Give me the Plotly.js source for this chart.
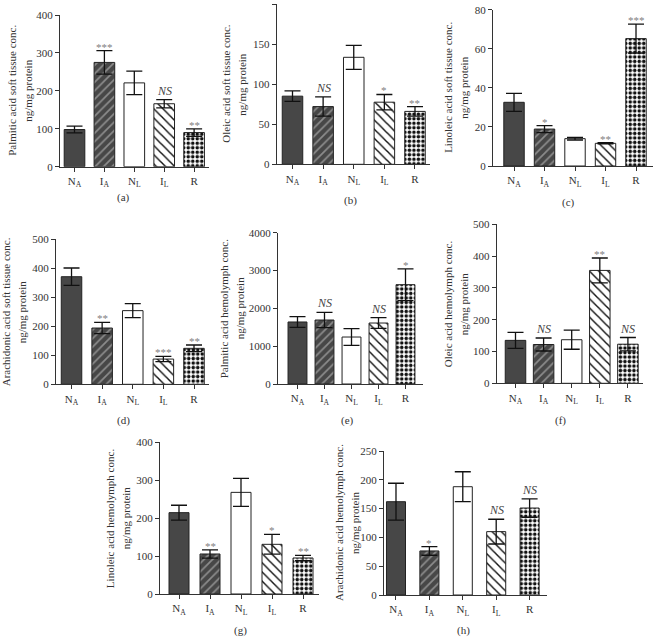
<!DOCTYPE html>
<html><head><meta charset="utf-8">
<script src="https://cdn.plot.ly/plotly-3.0.1.min.js"></script>
<style>html,body{margin:0;padding:0;background:#fff}#chart{width:656px;height:638px}</style>
</head><body><div id="chart"></div>
<script>
const categories = ["N<sub>A</sub>", "I<sub>A</sub>", "N<sub>L</sub>", "I<sub>L</sub>", "R"];

const palmiticTissue = [98, 275, 221, 166, 90];
const palmiticTissueErr = [9, 31, 31, 11, 10];
const palmiticTissueSig = ["", "***", "", "NS", "**"];

const oleicTissue = [85, 72, 133.5, 77.5, 66];
const oleicTissueErr = [6.5, 12, 15, 9.6, 6];
const oleicTissueSig = ["", "NS", "", "*", "**"];

const linoleicTissue = [32.6, 18.9, 14, 11.6, 65.2];
const linoleicTissueErr = [4.6, 1.8, 0.7, 0.3, 7.4];
const linoleicTissueSig = ["", "*", "", "**", "***"];

const arachidonicTissue = [371, 194, 254, 87, 124];
const arachidonicTissueErr = [30, 19.5, 24, 9, 11.5];
const arachidonicTissueSig = ["", "**", "", "***", "**"];

const palmiticHemo = [1640, 1692, 1242, 1612, 2626];
const palmiticHemoErr = [141, 200, 220, 141, 420];
const palmiticHemoSig = ["", "NS", "", "NS", "*"];

const oleicHemo = [135, 122, 137, 355, 123];
const oleicHemoErr = [25, 20.5, 30, 39, 21];
const oleicHemoSig = ["", "NS", "", "**", "NS"];

const linoleicHemo = [214.5, 105.5, 268, 131, 95];
const linoleicHemoErr = [19.5, 11, 37, 26, 7];
const linoleicHemoSig = ["", "**", "", "*", "**"];

const arachidonicHemo = [162, 76.5, 188, 110, 151];
const arachidonicHemoErr = [32, 7.5, 26, 21.5, 16];
const arachidonicHemoSig = ["", "*", "", "NS", "NS"];

const yTitleLine1 = [
  "Palmitic acid soft tissue conc.",
  "Oleic acid soft tissue conc.",
  "Linoleic acid soft tissue conc.",
  "Arachidonic acid soft tissue conc.",
  "Palmitic acid hemolymph conc.",
  "Oleic acid hemolymph conc.",
  "Linoleic acid hemolymph conc.",
  "Arachidonic acid hemolymph conc."
];
const yTitleLine2 = "ng/mg protein";
const panelLabels = ["(a)", "(b)", "(c)", "(d)", "(e)", "(f)", "(g)", "(h)"];
const yMax = [400, 200, 80, 500, 4000, 500, 400, 250];
const yStep = [100, 50, 20, 100, 1000, 100, 100, 50];

const seriesValues = [palmiticTissue, oleicTissue, linoleicTissue, arachidonicTissue, palmiticHemo, oleicHemo, linoleicHemo, arachidonicHemo];
const seriesErrors = [palmiticTissueErr, oleicTissueErr, linoleicTissueErr, arachidonicTissueErr, palmiticHemoErr, oleicHemoErr, linoleicHemoErr, arachidonicHemoErr];
const seriesSig = [palmiticTissueSig, oleicTissueSig, linoleicTissueSig, arachidonicTissueSig, palmiticHemoSig, oleicHemoSig, linoleicHemoSig, arachidonicHemoSig];

// ---- layout geometry (pixels) ----
const W = 656, H = 638;
const geom = [
  {x0: 60,    x1: 209, y0: 15,    y1: 166.7, r: [-0.485, 4.498], bw: 0.69, tx: 20,    lx: 123, ly: 197},
  {x0: 276.7, x1: 430, y0: 4,     y1: 164.3, r: [-0.516, 4.49],  bw: 0.67, tx: 234.5, lx: 350, ly: 200},
  {x0: 493,   x1: 653, y0: 9.7,   y1: 166,   r: [-0.689, 4.557], bw: 0.67, tx: 456,   lx: 568, ly: 202},
  {x0: 56,    x1: 209, y0: 239.3, y1: 384.3, r: [-0.507, 4.49],  bw: 0.67, tx: 13.5,  lx: 123, ly: 420},
  {x0: 278,   x1: 423, y0: 232.7, y1: 384,   r: [-0.722, 4.648], bw: 0.70, tx: 232,   lx: 347, ly: 420},
  {x0: 496.7, x1: 643, y0: 224.3, y1: 383.3, r: [-0.669, 4.537], bw: 0.73, tx: 455.5, lx: 560, ly: 420},
  {x0: 160,   x1: 319, y0: 442.3, y1: 594,   r: [-0.613, 4.516], bw: 0.645, tx: 118,  lx: 240, ly: 630},
  {x0: 384,   x1: 547, y0: 451,   y1: 595,   r: [-0.359, 4.521], bw: 0.57, tx: 347,   lx: 463, ly: 630}
];

const DARK = "#474747";
// one fill style per group (N_A, I_A, N_L, I_L, R)
const groupStyles = [
  {color: DARK},
  {color: DARK, pattern: {shape: "/", fgcolor: "#8c8c8c", bgcolor: DARK, size: 6, solidity: 0.28, fillmode: "replace"}},
  {color: "#ffffff"},
  {color: "#ffffff", pattern: {shape: "\\", fgcolor: "#111111", bgcolor: "#ffffff", size: 6.5, solidity: 0.22, fillmode: "replace"}},
  {color: "#ffffff", pattern: {shape: ".", fgcolor: "#111111", bgcolor: "#ffffff", size: 4.5, solidity: 0.5, fillmode: "replace"}}
];

const FONT = "Liberation Serif, Times New Roman, serif";
const data = [];
const layout = {
  width: W, height: H,
  margin: {l: 0, r: 0, t: 0, b: 0},
  paper_bgcolor: "#fff", plot_bgcolor: "rgba(0,0,0,0)",
  showlegend: false, barmode: "overlay",
  font: {family: FONT, size: 11, color: "#333"},
  annotations: []
};

geom.forEach((g, i) => {
  const n = i + 1;
  const xa = "x" + (n === 1 ? "" : n), ya = "y" + (n === 1 ? "" : n);
  categories.forEach((c, k) => {
    const st = groupStyles[k];
    const marker = {color: st.color, opacity: 1, line: {color: "#222", width: 1}};
    if (st.pattern) marker.pattern = st.pattern;
    data.push({
      type: "bar", x: [c], y: [seriesValues[i][k]], xaxis: xa, yaxis: ya,
      width: g.bw, marker: marker,
      error_y: {type: "data", array: [seriesErrors[i][k]], visible: true, color: "#111", thickness: 1.3, width: 8},
      hoverinfo: "skip"
    });
  });
  const axCommon = {
    showline: true, linecolor: "#333", linewidth: 1, ticks: "outside", ticklen: 4, tickwidth: 1,
    tickcolor: "#333", showgrid: false, zeroline: false, fixedrange: true,
    tickfont: {family: FONT, size: 11, color: "#333"}
  };
  layout["xaxis" + (n === 1 ? "" : n)] = Object.assign({}, axCommon, {
    type: "category", categoryorder: "array", categoryarray: categories,
    domain: [g.x0 / W, g.x1 / W], anchor: ya, range: g.r
  });
  layout["yaxis" + (n === 1 ? "" : n)] = Object.assign({}, axCommon, {
    domain: [1 - g.y1 / H, 1 - g.y0 / H], anchor: xa, range: [0, yMax[i]], dtick: yStep[i], tick0: 0
  });
  const ymid = 1 - ((g.y0 + g.y1) / 2) / H;
  [yTitleLine1[i], yTitleLine2].forEach((t, j) => {
    layout.annotations.push({
      xref: "paper", yref: "paper", x: (g.tx + (j === 0 ? -8 : 8)) / W, y: ymid,
      text: t, textangle: -90, showarrow: false, xanchor: "center", yanchor: "middle",
      font: {family: FONT, size: 11, color: "#333"}
    });
  });
  layout.annotations.push({
    xref: "paper", yref: "paper", x: g.lx / W, y: 1 - g.ly / H,
    text: panelLabels[i], showarrow: false, xanchor: "center", yanchor: "middle",
    font: {family: FONT, size: 11, color: "#333"}
  });
  seriesSig[i].forEach((s, k) => {
    if (!s) return;
    const isNS = s === "NS";
    layout.annotations.push({
      xref: xa, yref: ya, x: categories[k], y: seriesValues[i][k] + seriesErrors[i][k],
      text: s, showarrow: false, xanchor: "center", yanchor: "bottom",
      yshift: isNS ? 0 : -4,
      font: {family: FONT, size: isNS ? 12 : 11, color: isNS ? "#444" : "#808080", style: isNS ? "italic" : "normal"}
    });
  });
});

Plotly.newPlot("chart", data, layout, {staticPlot: true, displayModeBar: false});
</script>
</body></html>
